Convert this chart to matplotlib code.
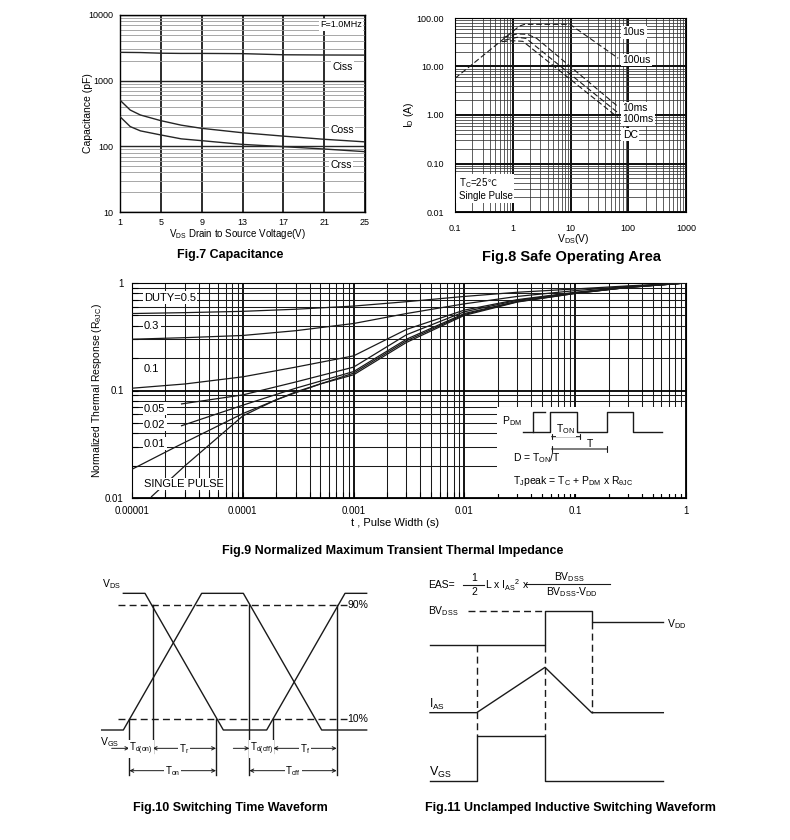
import numpy as np
import matplotlib
matplotlib.use('Agg')
import matplotlib.pyplot as plt
from matplotlib.ticker import LogLocator, FixedLocator, NullFormatter, FixedFormatter
from matplotlib.patches import Rectangle
from matplotlib.offsetbox import TextArea, HPacker, VPacker, AnnotationBbox

plt.rcParams['font.family'] = ['Liberation Sans', 'DejaVu Sans']
plt.rcParams['mathtext.fontset'] = 'custom'
plt.rcParams['mathtext.rm'] = 'Liberation Sans'
plt.rcParams['mathtext.it'] = 'Liberation Sans:italic'
plt.rcParams['mathtext.bf'] = 'Liberation Sans:bold'
plt.rcParams['mathtext.default'] = 'regular'

# ---------------- Fig.7 Capacitance data ----------------
cap_vds = [1, 2, 3, 5, 7, 9, 13, 17, 21, 25]
cap_ciss = [2700, 2690, 2680, 2620, 2600, 2600, 2580, 2480, 2460, 2450]
cap_coss = [505, 357, 300, 246, 210, 188, 161, 143, 128, 117]
cap_crss = [283, 200, 172, 149, 130, 122, 107, 99, 91, 83]
cap_xticks = [1, 5, 9, 13, 17, 21, 25]
cap_yticks = [10, 100, 1000, 10000]
cap_ytick_labels = ['10', '100', '1000', '10000']

# ---------------- Fig.8 Safe operating area data ----------------
soa_top_v = [0.1, 1.3, 1.6, 9.8, 67]
soa_top_i = [5.7, 68, 74, 74, 14.8]
soa_10ms_v = [0.69, 1.2, 1.8, 2.6, 67]
soa_10ms_i = [40, 47, 46, 38, 1.48]
soa_100ms_v = [0.72, 1.2, 1.7, 67]
soa_100ms_i = [35, 40, 38, 1.1]
soa_dc_v = [0.64, 1.0, 1.5, 67]
soa_dc_i = [32.5, 34, 33, 0.88]
soa_xticks = [0.1, 1, 10, 100, 1000]
soa_xtick_labels = ['0.1', '1', '10', '100', '1000']
soa_yticks = [0.01, 0.1, 1, 10, 100]
soa_ytick_labels = ['0.01', '0.10', '1.00', '10.00', '100.00']
soa_labels = ['10us', '100us', '10ms', '100ms', 'DC']
soa_label_y = [51, 13.6, 1.37, 0.81, 0.39]

# ---------------- Fig.9 Transient thermal impedance data ----------------
zth_t = [1e-5, 3e-5, 1e-4, 3e-4, 1e-3, 3e-3, 1e-2, 3e-2, 0.1, 0.3, 1]
zth_d05 = [0.52, 0.53, 0.545, 0.57, 0.61, 0.67, 0.75, 0.82, 0.88, 0.94, 1.0]
zth_d03 = [0.30, 0.31, 0.325, 0.36, 0.42, 0.52, 0.64, 0.75, 0.85, 0.93, 1.0]
zth_d01 = [0.105, 0.115, 0.134, 0.165, 0.21, 0.37, 0.56, 0.70, 0.82, 0.92, 1.0]
zth_low_t = [2.8e-5, 1e-4, 3e-4, 1e-3, 3e-3, 1e-2, 3e-2, 0.1, 0.3, 1]
zth_d005 = [0.075, 0.091, 0.12, 0.165, 0.33, 0.54, 0.69, 0.81, 0.915, 1.0]
zth_d002 = [0.047, 0.073, 0.105, 0.15, 0.30, 0.52, 0.675, 0.805, 0.91, 1.0]
zth_d001_t = [1e-5, 2.5e-5, 1e-4, 3e-4, 1e-3, 3e-3, 1e-2, 3e-2, 0.1, 0.3, 1]
zth_d001 = [0.0185, 0.030, 0.061, 0.097, 0.145, 0.29, 0.51, 0.67, 0.80, 0.91, 1.0]
zth_sp_t = [1.5e-5, 3e-5, 1e-4, 2e-4, 5e-4, 1e-3, 3e-3, 1e-2, 3e-2, 0.1, 0.3, 1]
zth_sp = [0.0103, 0.0199, 0.058, 0.082, 0.115, 0.14, 0.28, 0.50, 0.665, 0.80, 0.91, 1.0]
zth_xticks = [1e-5, 1e-4, 1e-3, 1e-2, 0.1, 1]
zth_xtick_labels = ['0.00001', '0.0001', '0.001', '0.01', '0.1', '1']
zth_yticks = [0.01, 0.1, 1]
zth_ytick_labels = ['0.01', '0.1', '1']
zth_labels = ['DUTY=0.5', '0.3', '0.1', '0.05', '0.02', '0.01', 'SINGLE PULSE']
zth_label_y = [0.73, 0.40, 0.16, 0.068, 0.048, 0.032, 0.0135]

# ---------------- Fig.10 switching waveform (schematic units) ----------------
sw_vds_x = [100, 165, 400, 530, 765, 830]
sw_vds_y = [100, 100, 510, 510, 100, 100]
sw_vgs_x = [35, 100, 335, 460, 695, 830]
sw_vgs_y = [510, 510, 100, 100, 510, 510]

# ---------------- Fig.11 UIS waveform (schematic units) ----------------
uis_vds_x = [60, 405, 405, 545, 545, 760]
uis_vds_y = [255, 255, 152, 152, 185, 185]
uis_ias_x = [60, 200, 405, 545, 760]
uis_ias_y = [458, 458, 322, 458, 458]
uis_vgs_x = [60, 200, 200, 405, 405, 760]
uis_vgs_y = [662, 662, 528, 528, 662, 662]

W, H = 790, 840
fig = plt.figure(figsize=(W / 100, H / 100), dpi=100)
fig.patch.set_facecolor('white')


def px_axes(x0, y0, x1, y1):
    return fig.add_axes([x0 / W, 1 - y1 / H, (x1 - x0) / W, (y1 - y0) / H])


white_box = dict(facecolor='white', edgecolor='none', pad=1.0)

# ================= Fig.7 =================
ax7 = px_axes(120, 15, 365, 212)
ax7.set_yscale('log')
ax7.set_xlim(1, 25)
ax7.set_ylim(10, 10000)
ax7.xaxis.set_major_locator(FixedLocator(cap_xticks))
ax7.yaxis.set_major_locator(FixedLocator(cap_yticks))
ax7.yaxis.set_major_formatter(FixedFormatter(cap_ytick_labels))
ax7.yaxis.set_minor_locator(LogLocator(base=10, subs=np.arange(2, 10)))
ax7.yaxis.set_minor_formatter(NullFormatter())
ax7.grid(which='minor', axis='y', color='0.6', lw=0.6)
ax7.grid(which='major', axis='y', color='0.15', lw=1.0)
ax7.grid(which='major', axis='x', color='0.1', lw=1.3)
ax7.tick_params(which='both', length=0, labelsize=6.5)
ax7.tick_params(axis='x', pad=4.5)
ax7.tick_params(axis='y', pad=5)
ax7.plot(cap_vds, cap_ciss, color='0.15', lw=1.0, zorder=3)
ax7.plot(cap_vds, cap_coss, color='0.15', lw=1.0, zorder=3)
ax7.plot(cap_vds, cap_crss, color='0.15', lw=1.0, zorder=3)
ax7.text(24.7, 7100, 'F=1.0MHz', fontsize=6.5, ha='right', va='center', bbox=white_box, zorder=4)
ax7.text(21.8, 1600, 'Ciss', fontsize=7.5, ha='left', va='center', bbox=white_box, zorder=4)
ax7.text(21.6, 178, 'Coss', fontsize=7.5, ha='left', va='center', bbox=white_box, zorder=4)
ax7.text(21.6, 52, 'Crss', fontsize=7.5, ha='left', va='center', bbox=white_box, zorder=4)
ax7.set_xlabel('V$_{DS}$ Drain to Source Voltage(V)', fontsize=7)
ax7.xaxis.set_label_coords(0.48, -0.078)
ax7.set_ylabel('Capacitance (pF)', fontsize=7.5)
ax7.yaxis.set_label_coords(-0.11, 0.5)
for s in ax7.spines.values():
    s.set_linewidth(1.0)

# ================= Fig.8 =================
ax8 = px_axes(455, 18, 686, 212)
ax8.set_xscale('log')
ax8.set_yscale('log')
ax8.set_xlim(0.1, 1000)
ax8.set_ylim(0.01, 100)
ax8.xaxis.set_major_locator(FixedLocator(soa_xticks))
ax8.xaxis.set_major_formatter(FixedFormatter(soa_xtick_labels))
ax8.yaxis.set_major_locator(FixedLocator(soa_yticks))
ax8.yaxis.set_major_formatter(FixedFormatter(soa_ytick_labels))
for a in (ax8.xaxis, ax8.yaxis):
    a.set_minor_locator(LogLocator(base=10, subs=np.arange(2, 10)))
    a.set_minor_formatter(NullFormatter())
ax8.grid(which='minor', color='0.2', lw=0.55)
ax8.grid(which='major', color='0.05', lw=1.4)
ax8.tick_params(which='both', length=0, labelsize=6.5)
ax8.tick_params(axis='x', pad=8.5)
ax8.tick_params(axis='y', pad=8)
dash = dict(color='0.1', lw=0.8, ls=(0, (5, 2.5)), zorder=3)
ax8.plot(soa_top_v, soa_top_i, **dash)
ax8.plot(soa_10ms_v, soa_10ms_i, **dash)
ax8.plot(soa_100ms_v, soa_100ms_i, **dash)
ax8.plot(soa_dc_v, soa_dc_i, **dash)
for lab, yv in zip(soa_labels, soa_label_y):
    ax8.text(80, yv, lab, fontsize=7.5, ha='left', va='center', bbox=white_box, zorder=4)
# "Tc=25 deg C / Single Pulse" box; the Celsius sign comes from a CJK font that has it
line1 = HPacker(children=[TextArea('T$_C$=25', textprops=dict(fontsize=7)),
                          TextArea('\u2103', textprops=dict(fontsize=6.5,
                                                            family=['Noto Sans CJK SC', 'DejaVu Sans']))],
                align='baseline', pad=0, sep=0)
line2 = TextArea('Single Pulse', textprops=dict(fontsize=7))
tc_box = VPacker(children=[line1, line2], align='left', pad=0, sep=1)
ab = AnnotationBbox(tc_box, (0.115, 0.055), xycoords='data', box_alignment=(0, 1),
                    frameon=True, pad=0.15, bboxprops=dict(facecolor='white', edgecolor='none'))
ab.set_zorder(4)
ax8.add_artist(ab)
ax8.set_xlabel('V$_{DS}$(V)', fontsize=7.5)
ax8.xaxis.set_label_coords(0.51, -0.103)
ax8.set_ylabel('I$_D$ (A)', fontsize=7.5)
ax8.yaxis.set_label_coords(-0.17, 0.5)

# ================= Fig.9 =================
ax9 = px_axes(132, 283, 686, 498)
ax9.set_xscale('log')
ax9.set_yscale('log')
ax9.set_xlim(1e-5, 1)
ax9.set_ylim(0.01, 1)
ax9.xaxis.set_major_locator(FixedLocator(zth_xticks))
ax9.xaxis.set_major_formatter(FixedFormatter(zth_xtick_labels))
ax9.yaxis.set_major_locator(FixedLocator(zth_yticks))
ax9.yaxis.set_major_formatter(FixedFormatter(zth_ytick_labels))
for a in (ax9.xaxis, ax9.yaxis):
    a.set_minor_locator(LogLocator(base=10, subs=np.arange(2, 10)))
    a.set_minor_formatter(NullFormatter())
ax9.grid(which='minor', color='0.1', lw=0.75)
ax9.grid(which='major', color='0.0', lw=1.3)
ax9.tick_params(which='both', direction='in', length=4, width=0.8, labelsize=7, pad=6)
ln = dict(color='0.1', lw=0.9, zorder=3)
ax9.plot(zth_t, zth_d05, **ln)
ax9.plot(zth_t, zth_d03, **ln)
ax9.plot(zth_t, zth_d01, **ln)
ax9.plot(zth_low_t, zth_d005, **ln)
ax9.plot(zth_low_t, zth_d002, **ln)
ax9.plot(zth_d001_t, zth_d001, **ln)
ax9.plot(zth_sp_t, zth_sp, **ln)
for lab, yv in zip(zth_labels, zth_label_y):
    ax9.text(1.28e-5, yv, lab, fontsize=8, ha='left', va='center', bbox=white_box, zorder=4)
ax9.set_xlabel('t , Pulse Width (s)', fontsize=8)
ax9.xaxis.set_label_coords(0.475, -0.095)
ax9.set_ylabel(r'Normalized Thermal Response (R$_{\theta JC}$)', fontsize=7.5)
ax9.yaxis.set_label_coords(-0.05, 0.5)

# inset of Fig.9 (schematic units)
axi = px_axes(400, 270, 700, 530)
axi.set_xlim(0, 900)
axi.set_ylim(780, 0)
axi.axis('off')
axi.patch.set_visible(False)
axi.add_patch(Rectangle((292, 410), 563, 262, facecolor='white', edgecolor='none', zorder=1))
pulse_x = [370, 450, 450, 530, 530, 620, 620, 700, 700, 785]
pulse_y = [485, 485, 425, 425, 485, 485, 425, 425, 485, 485]
axi.plot(pulse_x, pulse_y, color='0.1', lw=1.0, zorder=3)
axi.plot([435, 400, 400], [425, 425, 485], color='0.1', lw=1.0, zorder=3)
axi.text(305, 452, 'P$_{DM}$', fontsize=7.5, ha='left', va='center', zorder=4)
axi.text(497, 478, 'T$_{ON}$', fontsize=7.5, ha='center', va='center', zorder=4,
         bbox=dict(facecolor='white', edgecolor='none', pad=0.5))
axi.annotate('', xy=(540, 500), xytext=(455, 500), zorder=3,
             arrowprops=dict(arrowstyle='|-|,widthA=0.2,widthB=0.2', lw=0.8, color='0.1',
                             shrinkA=0, shrinkB=0))
axi.annotate('', xy=(622, 537), xytext=(455, 537), zorder=3,
             arrowprops=dict(arrowstyle='|-|,widthA=0.2,widthB=0.2', lw=0.8, color='0.1',
                             shrinkA=0, shrinkB=0))
axi.text(570, 522, 'T', fontsize=7.5, ha='center', va='center', zorder=4)
axi.text(338, 563, 'D = T$_{ON}$/T', fontsize=7.5, ha='left', va='center', zorder=4)
axi.text(338, 632, r'T$_J$peak = T$_C$ + P$_{DM}$ x R$_{\theta JC}$', fontsize=7.5,
         ha='left', va='center', zorder=4)

# ================= Fig.10 =================
ax10 = px_axes(90, 560, 400, 840)
ax10.set_xlim(0, 930)
ax10.set_ylim(840, 0)
ax10.axis('off')
k = dict(color='0.1', lw=1.0)
ax10.plot(sw_vds_x, sw_vds_y, **k)
ax10.plot(sw_vgs_x, sw_vgs_y, **k)
ax10.plot([85, 770], [135, 135], color='0.1', lw=1.0, ls=(0, (5, 3)))
ax10.plot([85, 770], [477, 477], color='0.1', lw=1.0, ls=(0, (5, 3)))
ax10.text(772, 135, '90%', fontsize=7.5, ha='left', va='center')
ax10.text(772, 477, '10%', fontsize=7.5, ha='left', va='center')
ax10.text(35, 72, 'V$_{DS}$', fontsize=7.5, ha='left', va='center')
ax10.text(30, 545, 'V$_{GS}$', fontsize=7.5, ha='left', va='center')
for xv, y0, y1 in [(118, 477, 645), (188, 135, 580), (378, 477, 645),
                   (478, 135, 645), (550, 477, 580), (740, 135, 645)]:
    ax10.plot([xv, xv], [y0, y1], color='0.1', lw=1.0)


def dim(ax, x0, x1, y, style='<->'):
    ax.annotate('', xy=(x1, y), xytext=(x0, y),
                arrowprops=dict(arrowstyle=style, lw=0.7, color='0.1', shrinkA=0, shrinkB=0,
                                mutation_scale=6))


dim(ax10, 65, 118, 565, '->')
dim(ax10, 118, 188, 565)
dim(ax10, 188, 378, 565)
dim(ax10, 430, 478, 565, '->')
dim(ax10, 478, 550, 565)
dim(ax10, 550, 740, 565)
dim(ax10, 118, 378, 632)
dim(ax10, 478, 740, 632)
lb = dict(facecolor='white', edgecolor='none', pad=0.6)
ax10.text(153, 567, 'T$_{d(on)}$', fontsize=7, ha='center', va='center', bbox=lb)
ax10.text(283, 567, 'T$_r$', fontsize=7, ha='center', va='center', bbox=lb)
ax10.text(514, 567, 'T$_{d(off)}$', fontsize=7, ha='center', va='center', bbox=lb)
ax10.text(645, 567, 'T$_f$', fontsize=7, ha='center', va='center', bbox=lb)
ax10.text(248, 634, 'T$_{on}$', fontsize=7, ha='center', va='center', bbox=lb)
ax10.text(610, 634, 'T$_{off}$', fontsize=7, ha='center', va='center', bbox=lb)

# ================= Fig.11 =================
ax11 = px_axes(410, 560, 740, 840)
ax11.set_xlim(0, 990)
ax11.set_ylim(840, 0)
ax11.axis('off')
ax11.plot(uis_vds_x, uis_vds_y, **k)
ax11.plot(uis_ias_x, uis_ias_y, **k)
ax11.plot(uis_vgs_x, uis_vgs_y, **k)
ax11.plot([175, 405], [152, 152], color='0.1', lw=1.0, ls=(0, (5, 3)))
for xv, y0, y1 in [(200, 255, 528), (405, 255, 528), (545, 185, 458)]:
    ax11.plot([xv, xv], [y0, y1], color='0.1', lw=1.0, ls=(0, (5, 3)))
ax11.text(55, 152, 'BV$_{DSS}$', fontsize=7.5, ha='left', va='center')
ax11.text(770, 193, 'V$_{DD}$', fontsize=7.5, ha='left', va='center')
ax11.text(58, 455, 'I$_{AS}$', fontsize=8.5, ha='left', va='bottom')
ax11.text(58, 660, 'V$_{GS}$', fontsize=9, ha='left', va='bottom')
# EAS formula
ax11.text(55, 75, 'EAS=', fontsize=7.5, ha='left', va='center')
ax11.plot([160, 222], [75, 75], color='0.1', lw=0.8)
ax11.text(192, 53, '1', fontsize=7.5, ha='center', va='center')
ax11.text(192, 97, '2', fontsize=7.5, ha='center', va='center')
ax11.text(224, 75, 'L x I$_{AS}$$^{2}$ x', fontsize=7.5, ha='left', va='center')
ax11.plot([348, 600], [72, 72], color='0.1', lw=0.8)
ax11.text(478, 51, 'BV$_{DSS}$', fontsize=7.5, ha='center', va='center')
ax11.text(485, 95, 'BV$_{DSS}$-V$_{DD}$', fontsize=7.5, ha='center', va='center')

# ================= Titles =================
tk = dict(fontsize=9, fontweight='bold', ha='center', va='center')
fig.text(230 / W, 1 - 255 / H, 'Fig.7 Capacitance', **tk)
fig.text(572 / W, 1 - 257 / H, 'Fig.8 Safe Operating Area', fontsize=10.5, fontweight='bold',
         ha='center', va='center')
fig.text(393 / W, 1 - 551 / H, 'Fig.9 Normalized Maximum Transient Thermal Impedance', **tk)
fig.text(230 / W, 1 - 808 / H, 'Fig.10 Switching Time Waveform', **tk)
fig.text(570 / W, 1 - 808 / H, 'Fig.11 Unclamped Inductive Switching Waveform', **tk)

fig.savefig('out.png', dpi=100, facecolor='white')
